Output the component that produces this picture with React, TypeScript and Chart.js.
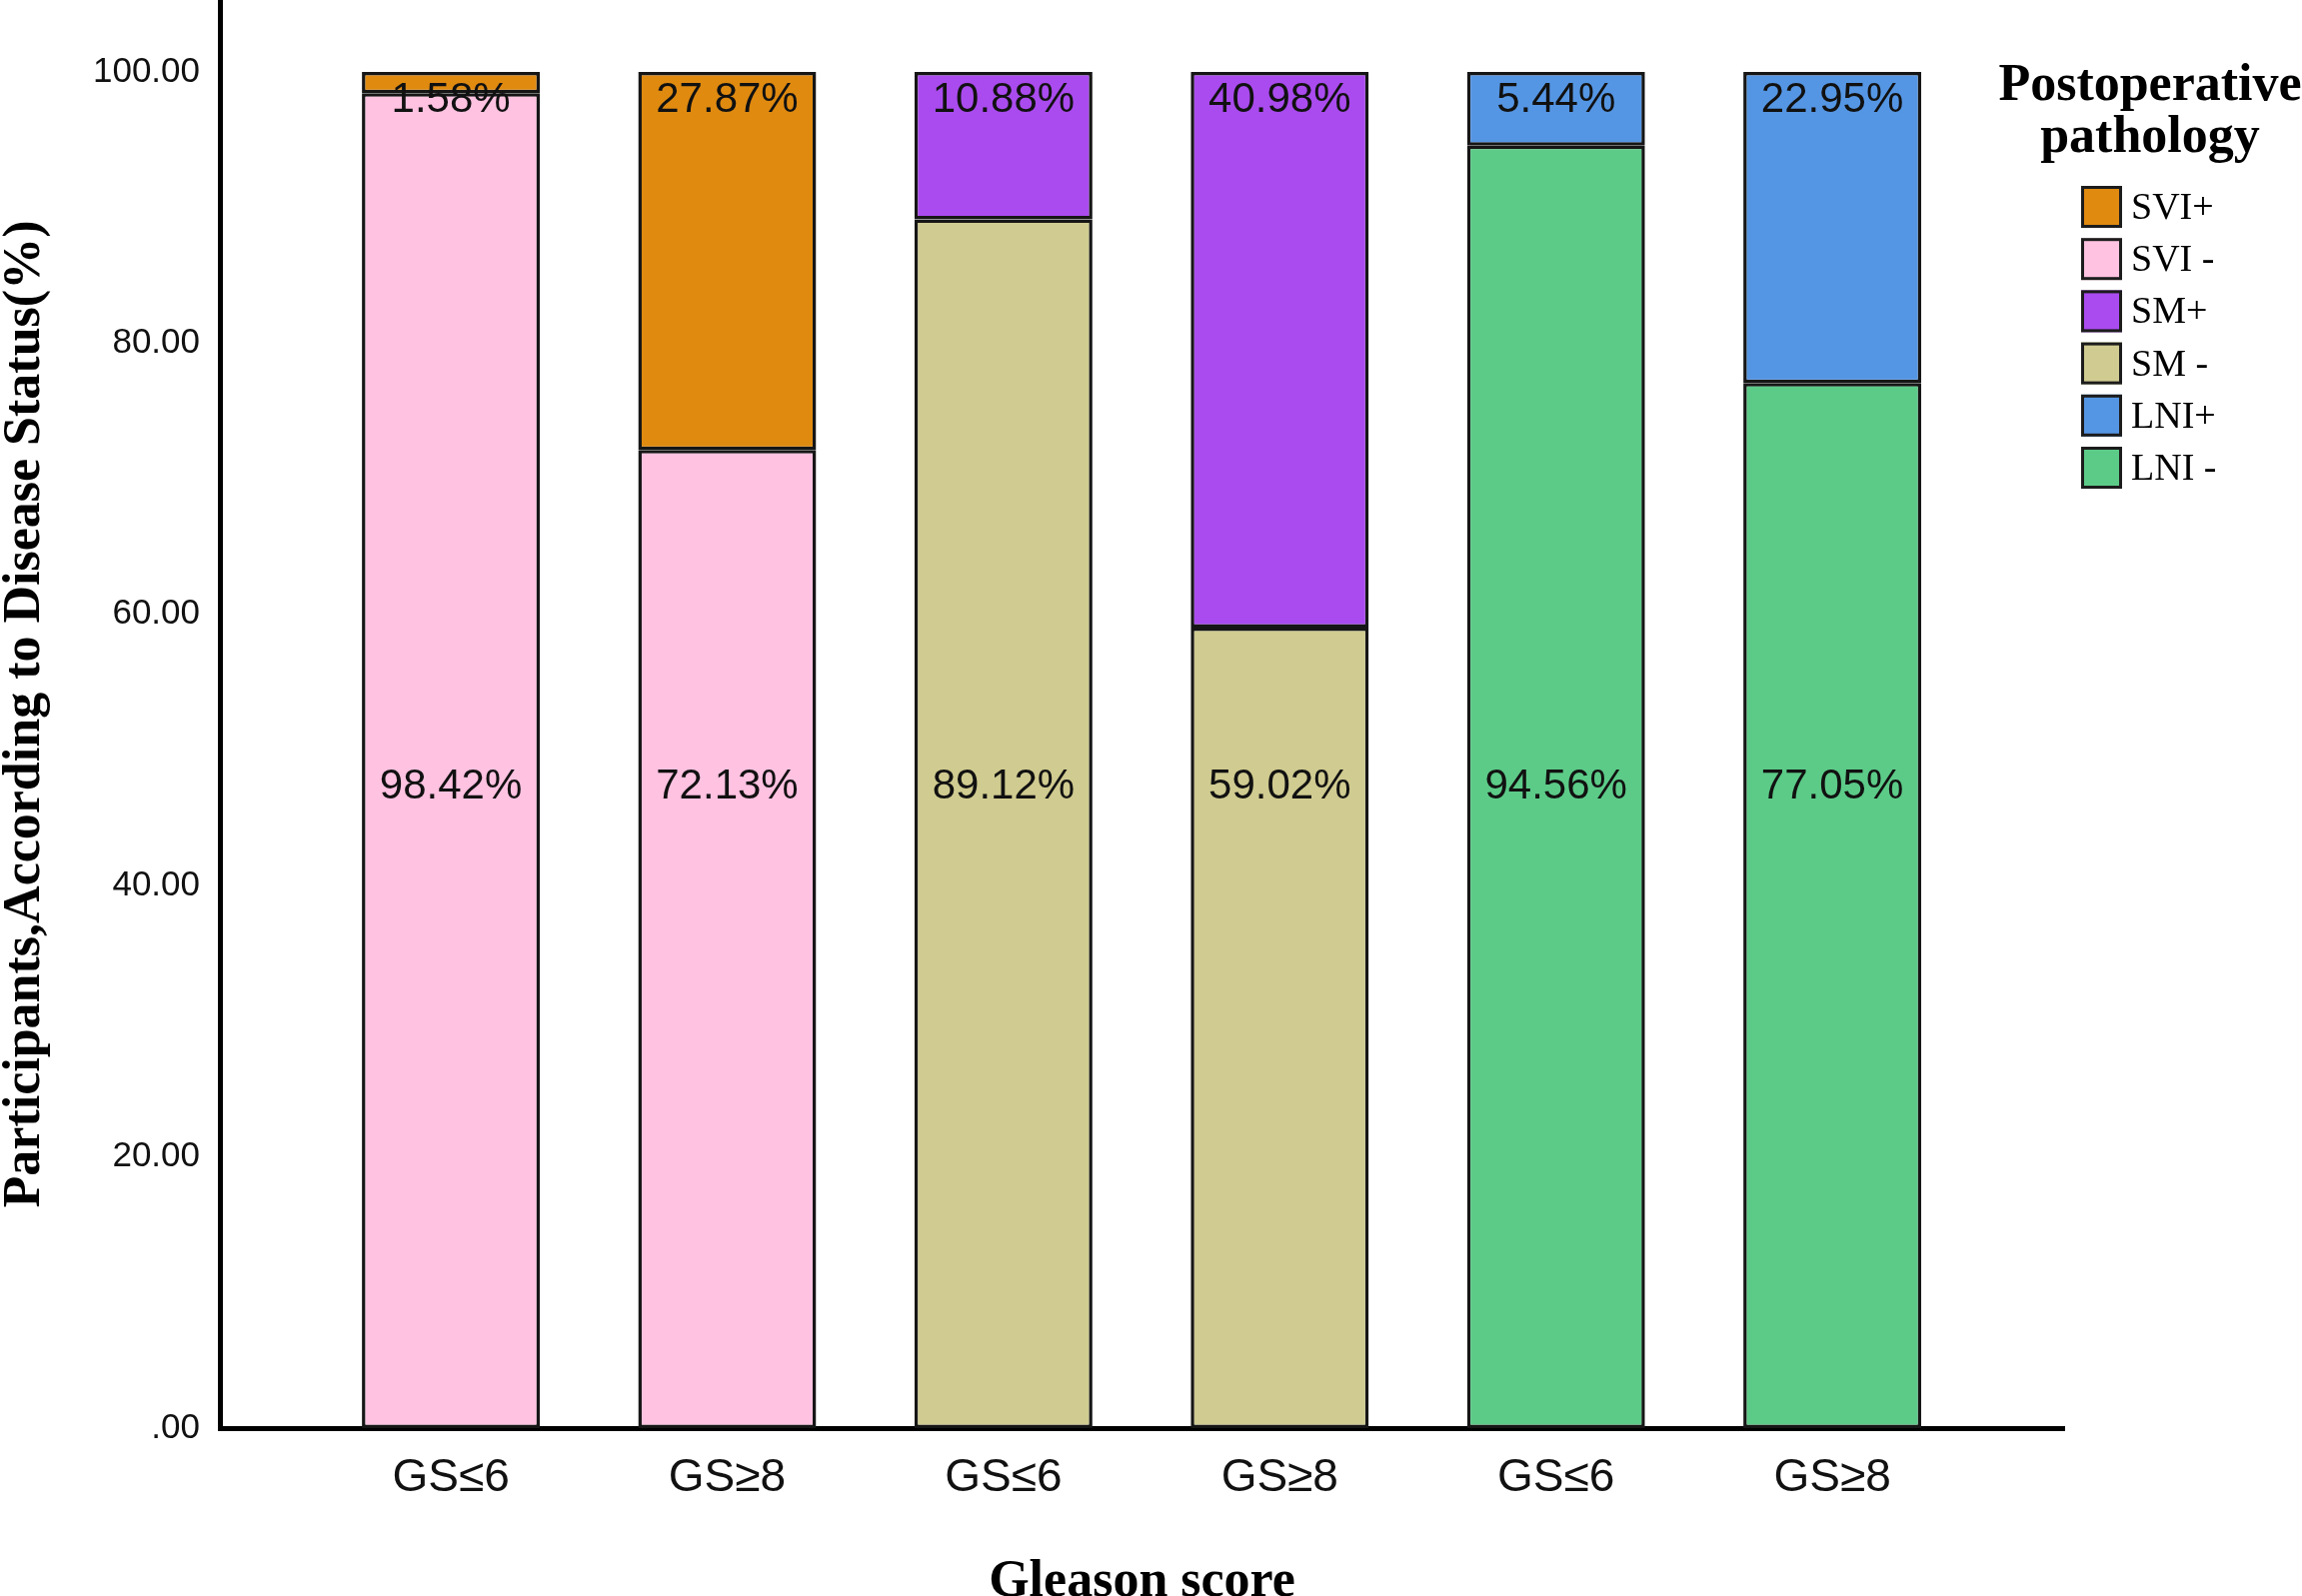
import { useEffect, useRef } from 'react'
import Chart from 'chart.js/auto'

// Gleason score groups, one bar each
const CATEGORIES = ['GS≤6', 'GS≥8', 'GS≤6', 'GS≥8', 'GS≤6', 'GS≥8']

// postoperative pathology shares (%) per bar, null where the series has no bar
const SVI_POS = [1.58, 27.87, null, null, null, null]
const SVI_NEG = [98.42, 72.13, null, null, null, null]
const SM_POS = [null, null, 10.88, 40.98, null, null]
const SM_NEG = [null, null, 89.12, 59.02, null, null]
const LNI_POS = [null, null, null, null, 5.44, 22.95]
const LNI_NEG = [null, null, null, null, 94.56, 77.05]

const Y_TICKS = [0, 20, 40, 60, 80, 100]

const SANS = '"Liberation Sans", Arial, sans-serif'
const SERIF = '"Liberation Serif", "Times New Roman", serif'

const toPoints = (vals: (number | null)[]) =>
  vals.flatMap((v, i) => (v == null ? [] : [{ x: i, y: v }]))

// bottom segment first so the stack builds upward
const SERIES = [
  { label: 'SVI -', values: SVI_NEG, color: '#FFC2E1', top: false },
  { label: 'SVI+', values: SVI_POS, color: '#E08A10', top: true },
  { label: 'SM -', values: SM_NEG, color: '#D0CB90', top: false },
  { label: 'SM+', values: SM_POS, color: '#AA4BEF', top: true },
  { label: 'LNI -', values: LNI_NEG, color: '#5CCB88', top: false },
  { label: 'LNI+', values: LNI_POS, color: '#5596E4', top: true },
]
const LEGEND_ORDER = [1, 0, 3, 2, 5, 4]

// value labels sit at two fixed heights, like the SPSS output
const valueLabels = {
  id: 'valueLabels',
  afterDatasetsDraw(chart: any) {
    const { ctx } = chart
    const y = chart.scales.y
    ctx.save()
    ctx.font = `42px ${SANS}`
    ctx.fillStyle = '#111'
    ctx.textAlign = 'center'
    ctx.textBaseline = 'middle'
    chart.data.datasets.forEach((ds: any, di: number) => {
      const meta = chart.getDatasetMeta(di)
      const py = y.getPixelForValue(SERIES[di].top ? 97.9 : 47.3)
      meta.data.forEach((bar: any, i: number) => {
        ctx.fillText(ds.data[i].y.toFixed(2) + '%', bar.x, py)
      })
    })
    ctx.restore()
  },
}

const sideLegend = {
  id: 'sideLegend',
  afterDraw(chart: any) {
    const { ctx, chartArea } = chart
    const r = chartArea.right
    ctx.save()
    ctx.fillStyle = '#000'
    ctx.textAlign = 'center'
    ctx.textBaseline = 'alphabetic'
    ctx.font = `bold 52px ${SERIF}`
    ctx.fillText('Postoperative', r + 86, 100)
    ctx.fillText('pathology', r + 86, 152)
    ctx.textAlign = 'left'
    ctx.textBaseline = 'middle'
    ctx.font = `38px ${SERIF}`
    LEGEND_ORDER.forEach((di, k) => {
      const ds = chart.data.datasets[di]
      const cy = 207 + k * 52.2
      ctx.fillStyle = ds.backgroundColor
      ctx.fillRect(r + 17, cy - 21, 41, 42)
      ctx.lineWidth = 3
      ctx.strokeStyle = '#1c1c1c'
      ctx.strokeRect(r + 18.5, cy - 19.5, 38, 39)
      ctx.fillStyle = '#000'
      ctx.fillText(ds.label, r + 67, cy + 2)
    })
    ctx.restore()
  },
}

export default function App() {
  const canvasRef = useRef<HTMLCanvasElement>(null)
  const chartRef = useRef<Chart | null>(null)

  useEffect(() => {
    if (!canvasRef.current) return
    if (chartRef.current) chartRef.current.destroy()
    chartRef.current = new Chart(canvasRef.current, {
      type: 'bar',
      data: {
        datasets: SERIES.map((s) => ({
          label: s.label,
          data: toPoints(s.values),
          backgroundColor: s.color,
          borderColor: '#161616',
          borderWidth: 3.5,
          borderSkipped: false,
          barPercentage: 0.644,
          categoryPercentage: 1,
        })),
      },
      options: {
        responsive: true,
        maintainAspectRatio: false,
        animation: false,
        layout: { padding: { left: 0, top: 0, right: 238, bottom: 0 } },
        plugins: { legend: { display: false }, tooltip: { enabled: false } },
        scales: {
          x: {
            type: 'linear',
            stacked: true,
            offset: false,
            min: -0.836,
            max: 5.839,
            grid: { display: false, drawTicks: false, offset: false },
            border: { display: true, color: '#000', width: 5 },
            afterBuildTicks: (axis: any) => {
              axis.ticks = CATEGORIES.map((_, i) => ({ value: i }))
            },
            afterFit: (scale: any) => {
              scale.height = 168
              scale.paddingLeft = 0
              scale.paddingRight = 0
            },
            ticks: {
              autoSkip: false,
              maxRotation: 0,
              padding: 23,
              color: '#111',
              font: { family: SANS, size: 46 },
              callback: (v: any) => CATEGORIES[v] ?? '',
            },
            title: {
              display: true,
              text: 'Gleason score',
              color: '#000',
              padding: { top: 0, bottom: -13 },
              font: { family: SERIF, size: 52, weight: 'bold', lineHeight: 1 },
            },
          },
          y: {
            type: 'linear',
            stacked: true,
            min: 0,
            max: 105.3,
            grid: { display: false, drawTicks: false },
            border: { display: true, color: '#000', width: 5 },
            afterBuildTicks: (axis: any) => {
              axis.ticks = Y_TICKS.map((v) => ({ value: v }))
            },
            afterFit: (scale: any) => {
              scale.width = 220
              scale.paddingTop = 0
              scale.paddingBottom = 0
            },
            ticks: {
              padding: 20,
              color: '#111',
              font: { family: SANS, size: 35 },
              callback: (v: any) => (v === 0 ? '.00' : Number(v).toFixed(2)),
            },
            title: {
              display: true,
              text: 'Participants,According to Disease Status(%)',
              color: '#000',
              padding: { top: 0, bottom: 0 },
              font: { family: SERIF, size: 52, weight: 'bold', lineHeight: 1 },
            },
          },
        },
      },
      plugins: [valueLabels, sideLegend],
    })
    return () => { chartRef.current?.destroy() }
  }, [])

  return (
    <div style={{ position: 'fixed', left: 0, top: 0, width: 2303, height: 1597, background: '#fff' }}>
      <canvas ref={canvasRef} />
    </div>
  )
}
